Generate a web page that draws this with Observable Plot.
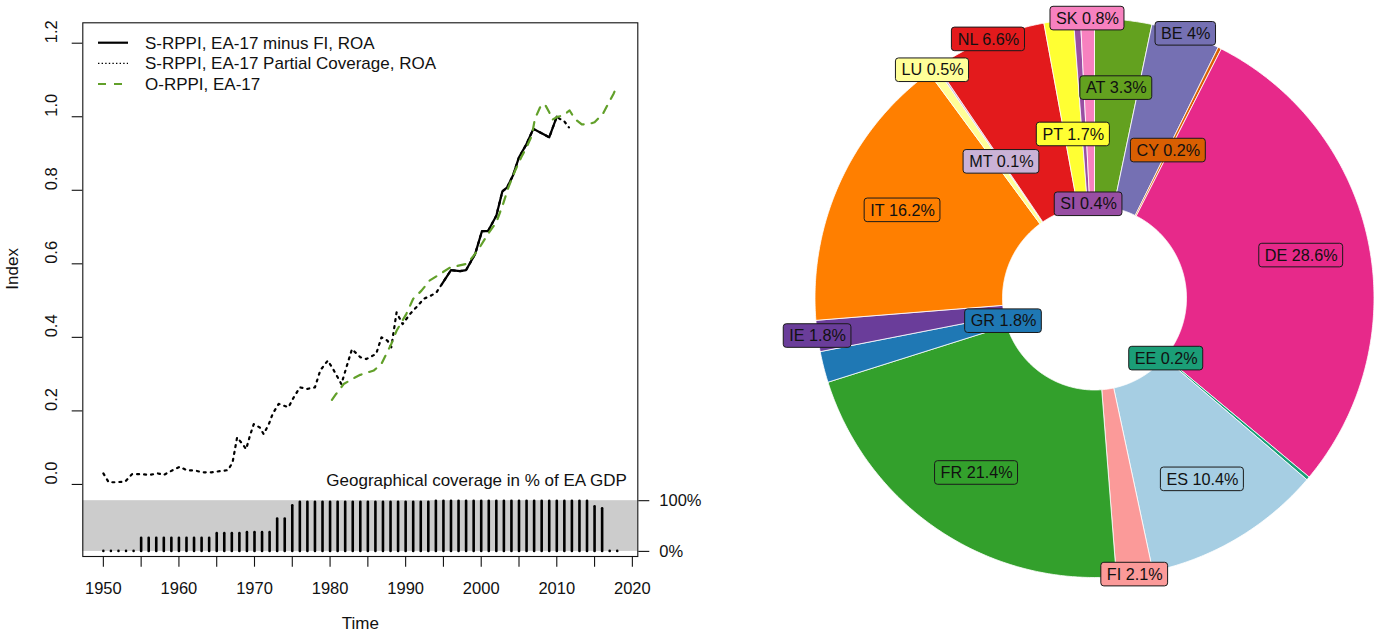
<!DOCTYPE html>
<html>
<head>
<meta charset="utf-8">
<script src="https://cdn.jsdelivr.net/npm/d3@7"></script>
<script src="https://cdn.jsdelivr.net/npm/@observablehq/plot@0.6"></script>
<style>
  body { margin: 0; background: white; }
  #wrap { position: relative; width: 1381px; height: 641px; overflow: hidden; }
  #left { position: absolute; left: 0; top: 0; width: 720px; z-index: 2; }
  #right { position: absolute; left: 700px; top: 0; width: 681px; z-index: 1; }
</style>
</head>
<body>
<div id="wrap"><div id="left"></div><div id="right"></div></div>
<script>
// ---- left panel data: index series [time, value] ----
const seriesNames = ["S-RPPI, EA-17 minus FI, ROA", "S-RPPI, EA-17 Partial Coverage, ROA", "O-RPPI, EA-17"];

const partialCoverage = [
  [1950.0, 0.030], [1950.7, 0.006], [1951.8, 0.006], [1952.9, 0.008], [1953.8, 0.028],
  [1955.0, 0.028], [1956.1, 0.026], [1957.2, 0.030], [1958.0, 0.026], [1959.1, 0.038],
  [1960.1, 0.048], [1961.1, 0.038], [1962.1, 0.038], [1963.1, 0.033], [1964.3, 0.033],
  [1965.4, 0.036], [1966.5, 0.039], [1967.1, 0.060], [1967.7, 0.128], [1968.4, 0.110],
  [1968.9, 0.096], [1969.4, 0.133], [1969.9, 0.164], [1970.7, 0.155], [1971.2, 0.137],
  [1971.9, 0.164], [1972.4, 0.192], [1973.2, 0.219], [1974.5, 0.210], [1975.2, 0.237],
  [1976.0, 0.264], [1977.0, 0.260], [1978.0, 0.264], [1978.7, 0.310], [1979.7, 0.337],
  [1980.5, 0.310], [1981.5, 0.273], [1982.3, 0.328], [1982.9, 0.368], [1984.0, 0.346],
  [1984.8, 0.341], [1986.1, 0.355], [1986.8, 0.400], [1987.6, 0.391], [1988.1, 0.373],
  [1988.8, 0.468], [1989.6, 0.436], [1990.6, 0.464], [1991.6, 0.486], [1992.4, 0.505],
  [1993.4, 0.514], [1994.1, 0.523], [1994.8, 0.545], [1996.0, 0.583], [1997.2, 0.580],
  [1998.0, 0.583], [1999.2, 0.627], [2000.1, 0.689], [2000.9, 0.689], [2002.0, 0.731],
  [2002.8, 0.797], [2003.4, 0.807], [2004.2, 0.840], [2005.0, 0.890], [2005.9, 0.922],
  [2006.9, 0.967], [2008.0, 0.955], [2009.0, 0.944], [2010.0, 1.000], [2010.4, 0.994],
  [2010.9, 0.990], [2011.6, 0.971]
];

const minusFI = [
  [1994.8, 0.545], [1996.0, 0.583], [1997.2, 0.580], [1998.0, 0.583], [1999.2, 0.627],
  [2000.1, 0.689], [2000.9, 0.689], [2002.0, 0.731], [2002.8, 0.797], [2003.4, 0.807],
  [2004.2, 0.840], [2005.0, 0.890], [2005.9, 0.922], [2006.9, 0.967], [2008.0, 0.955],
  [2009.0, 0.944], [2010.0, 1.000]
];

const orppi = [
  [1980.25, 0.230], [1980.8, 0.246], [1981.8, 0.273], [1983.3, 0.291], [1984.0, 0.298],
  [1985.8, 0.310], [1986.8, 0.328], [1988.1, 0.382], [1988.8, 0.418], [1990.1, 0.464],
  [1991.0, 0.505], [1992.1, 0.527], [1993.2, 0.555], [1994.6, 0.573], [1995.8, 0.589],
  [1997.0, 0.595], [1998.1, 0.600], [1999.0, 0.622], [1999.8, 0.645], [2000.9, 0.681],
  [2002.0, 0.713], [2002.9, 0.763], [2003.6, 0.808], [2004.5, 0.854], [2005.3, 0.890],
  [2006.0, 0.917], [2006.7, 0.949], [2007.1, 0.994], [2007.8, 1.026], [2008.4, 1.035],
  [2009.0, 1.012], [2009.4, 0.992], [2010.1, 1.000], [2010.8, 1.003], [2011.7, 1.017],
  [2012.4, 0.994], [2013.3, 0.979], [2014.4, 0.981], [2015.0, 0.985], [2016.1, 1.008],
  [2016.8, 1.035], [2017.5, 1.062], [2018.0, 1.085]
];

// geographical coverage, % of EA GDP, one value per year 1950..2018
const years = d3.range(1950, 2019);
const coverage = [
  0, 0, 0, 0, 0,
  26, 26, 26, 26, 26, 26, 26, 26, 26, 26,
  35, 35, 35, 35, 37, 37, 37, 37,
  64, 64, 90,
  97, 97, 97, 97, 97, 97, 97, 97, 97, 97, 97, 97, 97, 97, 97, 97, 97, 97,
  99, 99, 99, 99, 99, 99, 99, 99, 99, 99, 99, 99, 99, 99, 99, 99, 99, 99, 99, 99, 99,
  88, 84, 0, 0
];

const indexTicks = [0, 0.2, 0.4, 0.6, 0.8, 1.0, 1.2];
const decadeTicks = d3.range(1950, 2021, 10);
const fiveYearTicks = d3.range(1950, 2021, 5);
const coverageTicks = [0, 100];
const coverageTitle = "Geographical coverage in % of EA GDP";

// ---- right panel data: share of EA GDP ----
const countries = ["AT", "BE", "CY", "DE", "EE", "ES", "FI", "FR", "GR", "IE", "IT", "LU", "MT", "NL", "PT", "SI", "SK"];
const shares = [3.3, 4, 0.2, 28.6, 0.2, 10.4, 2.1, 21.4, 1.8, 1.8, 16.2, 0.5, 0.1, 6.6, 1.7, 0.4, 0.8];
const palette = ["#63a11f", "#7570b3", "#d95f02", "#e7298a", "#1b9e77", "#a6cee3", "#fb9a99", "#33a02c",
                 "#1f78b4", "#6a3d9a", "#ff7f00", "#ffff99", "#cab2d6", "#e31a1c", "#ffff33", "#984ea3", "#f781bf"];

const font = "'Liberation Sans', Arial, sans-serif";
const green = "#62a02a";

// ---------------- left panel ----------------
const xPad = 0.04 * (d3.max(years) - d3.min(years)); // R style range extension
const xDomain = [d3.min(years) - xPad, d3.max(years) + xPad];
const yDomain = [-0.196, 1.2555];
const covToIndex = d3.scaleLinear([0, 100], [-0.1821, -0.0442]); // coverage band sits under the index

const coverageData = years.map((year, i) => ({ year, cov: coverage[i] }));

const leftChart = Plot.plot({
  width: 720,
  height: 641,
  marginLeft: 82.3,
  marginRight: 82.7,
  marginTop: 22.3,
  marginBottom: 85,
  x: { domain: xDomain },
  y: { domain: yDomain },
  style: { fontFamily: font, fontSize: "16px", background: "transparent", overflow: "visible", color: "#111" },
  marks: [
    Plot.rect([coverageTitle], {
      x1: xDomain[0], x2: xDomain[1],
      y1: covToIndex(0), y2: covToIndex(100),
      fill: "#cccccc"
    }),
    Plot.ruleX(coverageData, {
      x: "year",
      y1: covToIndex(0),
      y2: d => covToIndex(d.cov),
      stroke: "#000",
      strokeWidth: 2.6,
      strokeLinecap: "round"
    }),
    Plot.line(partialCoverage, { x: d => d[0], y: d => d[1], stroke: "#000", strokeWidth: 2.2, strokeDasharray: "2,5" }),
    Plot.line(minusFI, { x: d => d[0], y: d => d[1], stroke: "#000", strokeWidth: 2.2 }),
    Plot.line(orppi, { x: d => d[0], y: d => d[1], stroke: green, strokeWidth: 2.2, strokeDasharray: "8,8" }),
    Plot.frame({ stroke: "#111", strokeWidth: 1.1 }),

    // x axis: ticks every 5 years, labels every 10
    Plot.axisX({ ticks: fiveYearTicks, tickSize: 10.7, fill: "none", label: null, strokeWidth: 1.1 }),
    Plot.axisX({ ticks: decadeTicks, tickSize: 0, tickPadding: 26, tickFormat: d => String(d), fontSize: 16.5, label: null }),

    // left index axis with vertical labels
    Plot.axisY({ ticks: indexTicks, tickSize: 10.6, fill: "none", label: null, strokeWidth: 1.1 }),
    Plot.text(indexTicks, { y: d => d, text: d3.format(".1f"), frameAnchor: "left", dx: -30.6, rotate: -90, fontSize: 16.5 }),

    // right coverage axis
    Plot.axisY({
      anchor: "right",
      ticks: coverageTicks.map(p => covToIndex(p)),
      tickFormat: d => Math.round(covToIndex.invert(d)) + "%",
      tickSize: 11,
      tickPadding: 10.5,
      fontSize: 16.5,
      label: null,
      strokeWidth: 1.1
    }),

    Plot.text([coverageTitle], { text: d => d, frameAnchor: "bottom-right", dx: -11, dy: -71, textAnchor: "end", fontSize: 17 }),
    Plot.text(["Index"], { text: d => d, frameAnchor: "left", dx: -70, rotate: -90, fontSize: 17 }),
    Plot.text(["Time"], { text: d => d, frameAnchor: "bottom", dy: 72, fontSize: 17 })
  ]
});

// legend (top left, no box, like R's legend(bty = "n"))
const legendStyle = [
  { stroke: "#000", width: 2.2, dash: null },
  { stroke: "#000", width: 1.4, dash: "1.4,2.2" },
  { stroke: green, width: 2.2, dash: "8,8" }
];
const lg = d3.select(leftChart).append("g")
  .attr("font-family", font)
  .attr("font-size", 17)
  .attr("fill", "#111")
  .attr("text-anchor", "start");
seriesNames.forEach((name, i) => {
  const yy = 42.7 + i * 20.65;
  lg.append("line")
    .attr("x1", 98).attr("x2", 128).attr("y1", yy).attr("y2", yy)
    .attr("stroke", legendStyle[i].stroke)
    .attr("stroke-width", legendStyle[i].width)
    .attr("stroke-dasharray", legendStyle[i].dash);
  lg.append("text").attr("x", 145).attr("y", yy).attr("dy", "0.35em").text(name);
});

document.getElementById("left").append(leftChart);

// ---------------- right panel: donut ----------------
const R = 279.5;             // outer radius in px, used as the unit
const hole = 92 / R;         // inner radius, units of R
const rxDomain = [-394 / R, (681 - 394) / R];
const ryDomain = [-(641 - 297.5) / R, 297.5 / R];

const total = d3.sum(shares);
let acc = 0;
const slices = countries.map((c, i) => {
  const a0 = acc / total * 2 * Math.PI;
  acc += shares[i];
  const a1 = acc / total * 2 * Math.PI;
  return { country: c, share: shares[i], color: palette[i], a0, a1, mid: (a0 + a1) / 2 };
});

// polygon outline of each ring slice, clockwise from 12 o'clock
const ringPoints = slices.flatMap(s => {
  const n = Math.max(2, Math.ceil((s.a1 - s.a0) / (Math.PI / 360)));
  const angles = d3.range(n + 1).map(k => s.a0 + (s.a1 - s.a0) * k / n);
  const outer = angles.map(a => ({ r: 1, a }));
  const inner = angles.slice().reverse().map(a => ({ r: hole, a }));
  const pts = outer.concat(inner, [outer[0]]);
  return pts.map(p => ({ country: s.country, color: s.color, x: p.r * Math.sin(p.a), y: p.r * Math.cos(p.a) }));
});

// repelled label rings (radius in units of R)
const labelRing = {
  SK: 1.0, BE: 1.0, NL: 1.0, LU: 1.0, IE: 1.0, FI: 1.0,
  AT: 0.755, IT: 0.755, DE: 0.755, FR: 0.755, ES: 0.755,
  PT: 0.59, CY: 0.59, MT: 0.59,
  SI: 0.336, GR: 0.336, EE: 0.336
};

const labelSize = 16.2;
const ctx = document.createElement("canvas").getContext("2d");
ctx.font = `${labelSize}px 'Liberation Sans', Arial, sans-serif`;
const pxPerUnit = 681 / (rxDomain[1] - rxDomain[0]);

const labels = slices.map(s => {
  const text = `${s.country} ${s.share}%`;
  const r = labelRing[s.country];
  const x = r * Math.sin(s.mid);
  const y = r * Math.cos(s.mid);
  const hw = (ctx.measureText(text).width + 11) / 2 / pxPerUnit;
  const hh = 11.8 / pxPerUnit;
  return { text, color: s.color, x, y, x1: x - hw, x2: x + hw, y1: y - hh, y2: y + hh };
});

const rightChart = Plot.plot({
  width: 681,
  height: 641,
  margin: 0,
  x: { domain: rxDomain, axis: null },
  y: { domain: ryDomain, axis: null },
  color: { type: "identity" },
  style: { fontFamily: font, background: "transparent", overflow: "visible" },
  marks: [
    Plot.line(ringPoints, { x: "x", y: "y", z: "country", fill: "color", stroke: "white", strokeWidth: 0.8, curve: "linear" }),
    Plot.rect(labels, { x1: "x1", x2: "x2", y1: "y1", y2: "y2", fill: "color", stroke: "#1a1a1a", strokeWidth: 1, rx: 3 }),
    Plot.text(labels, { x: "x", y: "y", text: "text", fontSize: labelSize, fill: "#111" })
  ]
});

document.getElementById("right").append(rightChart);
</script>
</body>
</html>
